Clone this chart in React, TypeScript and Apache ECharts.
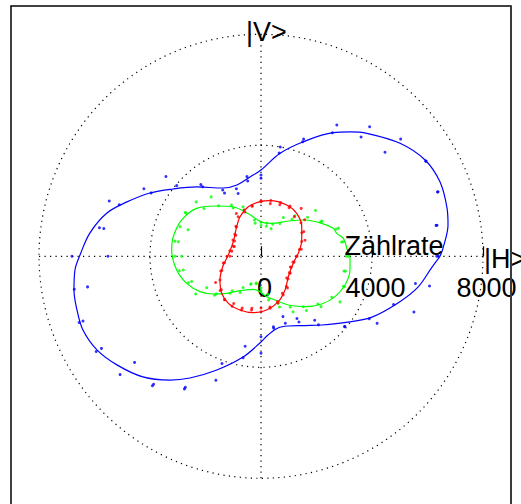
import React, { useEffect, useRef } from "react";
import * as echarts from "echarts";

// Measurement angles (degrees) — two readings per angle
const angles = [0, 10, 20, 30, 40, 50, 60, 70, 80, 90, 100, 110, 120, 130, 140, 150, 160, 170,
  180, 190, 200, 210, 220, 230, 240, 250, 260, 270, 280, 290, 300, 310, 320, 330, 340, 350];

const blueA = [6332, 6408, 6769, 6851, 6570, 6091, 5464, 4494, 3997, 2930, 2915, 2592, 2760, 3373, 3964, 4570, 5435, 5752,
  5514, 6347, 6826, 6639, 5948, 6087, 5517, 4754, 3713, 2898, 2577, 2312, 2590, 3010, 3934, 4505, 5082, 5652];
const blueB = [6390, 6440, 6790, 6870, 5832, 5611, 5143, 4393, 3781, 2811, 2757, 2411, 2630, 3272, 4472, 4873, 5820, 5911,
  6812, 6833, 6974, 6858, 6631, 6022, 5453, 4111, 3293, 3492, 2631, 2565, 2735, 3224, 3944, 4832, 5864, 6166];

const greenA = [3150, 3013, 2970, 2535, 2565, 1902, 1610, 1232, 1207, 1230, 1332, 1898, 2130, 2796, 3049, 3158, 3108, 3146,
  3099, 2990, 2787, 2717, 2186, 1740, 1503, 1074, 1003, 1250, 1596, 1945, 2311, 2547, 2823, 3284, 3200, 3086];
const greenB = [3080, 2950, 2880, 2480, 2189, 1737, 1362, 1060, 1098, 1110, 1213, 1774, 2008, 2378, 2684, 3112, 2799, 3023,
  2858, 2843, 2660, 2260, 2108, 1620, 1297, 1051, 975, 1143, 1390, 1800, 2107, 2378, 2676, 2946, 3162, 3036];

const redA = [1300, 1406, 1684, 1780, 2051, 2253, 2025, 1978, 1928, 1968, 1834, 1774, 1780, 1406, 1184, 1167, 1061, 1069,
  1117, 1380, 1542, 1890, 1921, 2045, 1966, 1986, 1903, 1864, 1853, 1791, 1542, 1485, 1211, 1218, 1129, 1168];
const redB = [1278, 1475, 1560, 1700, 1880, 1866, 2090, 2060, 2040, 1990, 1850, 1700, 1645, 1380, 1230, 1100, 1022, 1140,
  1230, 1340, 1500, 1707, 1870, 2030, 2080, 2057, 1964, 2000, 1900, 1740, 1600, 1420, 1270, 1180, 1160, 1210];

// Fitted curves (angle in degrees, radius in counts)
const blueCurveAngle = [0, 2.6, 9.5, 14.6, 22.5, 30.4, 39.1, 49.3, 54.4, 59.7, 69.7, 79.5, 90, 97.9, 108.6, 119.1, 132.7, 142.6,
  150.3, 157.9, 164.3, 172.2, 179.6, 184.2, 190.2, 196.3, 202.5, 209.7, 217.0, 225.6, 233.7, 239.7, 248.8, 259.9, 270, 275.1,
  283.3, 291.2, 302.4, 311.6, 322.9, 331.3, 341.2, 348.9, 356.4];
const blueCurveR = [6451, 6567, 6833, 6926, 6985, 6855, 6456, 5845, 5510, 5161, 4403, 3775, 3110, 2886, 2711, 2817, 3400, 3993,
  4605, 5211, 5766, 6220, 6523, 6722, 6848, 6908, 6944, 6807, 6502, 6084, 5535, 5078, 4394, 3687, 3089, 2847,
  2656, 2694, 2955, 3311, 3929, 4560, 5216, 5766, 6175];

const greenCurveAngle = [5.3, 12.3, 16.9, 21.2, 28.5, 39.5, 52.3, 72.0, 86.1, 96.6, 106.5, 119.3, 131.4, 143.3, 155.4, 167.4,
  176.0, 189.2, 200.0, 210.1, 218.3, 227.2, 238.6, 256.9, 268.4, 278.0, 287.8, 299.3, 311.1, 321.8, 331.4, 341.1, 351.2, 358.9];
const greenCurveR = [3103, 3036, 2851, 2794, 2490, 2056, 1608, 1250, 1214, 1342, 1600, 2038, 2416, 2892, 3143, 3239,
  3227, 3078, 2849, 2542, 2191, 1819, 1452, 1221, 1276, 1470, 1654, 2012, 2411, 2782, 3038, 3199, 3245, 3208];

const redCurveAngle = [4.6, 21.8, 36, 50.3, 63.4, 80.8, 91, 104.4, 117.9, 129.4, 152.2, 177.7, 195.2, 210, 223.3, 235.2,
  248.6, 262.2, 276, 290.9, 305.5, 323.2, 347.8];
const redCurveR = [1349, 1580, 1814, 2014, 2068, 2030, 1968, 1845, 1615, 1380, 1128, 1179, 1431, 1707, 1945, 2064,
  2078, 2051, 1946, 1751, 1491, 1229, 1190];

const radiusTickLabels = ["0", "4000", "8000"];
const axisTexts = { vertical: "|V>", horizontal: "|H>", radius: "Zählrate" };

const FONT = '"Liberation Sans", Arial, sans-serif';

function curveData(a: number[], r: number[]) {
  const d = a.map((ang, i) => [r[i], ang]);
  d.push([r[0], a[0] + 360]);
  return d;
}
function pointData(a: number[], r: number[]) {
  return a.map((ang, i) => [r[i], ang]);
}

export default function App() {
  const ref = useRef<HTMLDivElement>(null);
  useEffect(() => {
    const chart = echarts.init(ref.current as HTMLDivElement, null, { renderer: "svg" });
    const dotted = { color: "#000", width: 1.2, type: [1.2, 4.3] as any };
    const mk = (name: string, color: string, ca: number[], cr: number[], pa: number[][]) => [
      {
        type: "line", name, coordinateSystem: "polar", data: curveData(ca, cr), smooth: 0.35,
        showSymbol: false, symbol: "none", lineStyle: { color, width: 1.2 }, silent: true, z: 3,
      },
      {
        type: "scatter", name: name + "pts", coordinateSystem: "polar",
        data: [...pointData(angles, pa[0]), ...pointData(angles, pa[1])],
        symbol: "circle", symbolSize: 3, itemStyle: { color }, silent: true, z: 4,
      },
    ];
    chart.setOption({
      animation: false,
      backgroundColor: "#fff",
      polar: { center: [261, 256.3], radius: 222 },
      angleAxis: {
        type: "value", min: 0, max: 360, interval: 90, startAngle: 0, clockwise: false,
        axisLine: { show: false }, axisTick: { show: false }, axisLabel: { show: false },
        splitLine: { show: true, lineStyle: dotted },
      },
      radiusAxis: {
        type: "value", min: 0, max: 8000, interval: 4000,
        axisLine: { show: false },
        axisTick: { show: true, inside: true, length: 10, lineStyle: { color: "#000", width: 1.2 } },
        axisLabel: {
          show: true, margin: -18, verticalAlign: "top",
          formatter: (v: number) => "{a|" + radiusTickLabels[Math.round(v / 4000)] + "}",
          rich: { a: { fontSize: 27, fontFamily: FONT, color: "#000", padding: [0, 0, 0, 7] } },
        },
        splitLine: { show: true, lineStyle: dotted },
      },
      series: [
        ...mk("blue", "#0000ff", blueCurveAngle, blueCurveR, [blueA, blueB]),
        ...mk("green", "#00ff00", greenCurveAngle, greenCurveR, [greenA, greenB]),
        ...mk("red", "#ff0000", redCurveAngle, redCurveR, [redA, redB]),
      ],
      graphic: [
        { type: "text", x: 246, y: 31.6, z: 10, style: { text: axisTexts.vertical, font: "27px " + FONT, fill: "#000", align: "left", verticalAlign: "middle" } },
        { type: "text", x: 344.5, y: 245.6, z: 10, style: { text: axisTexts.radius, font: "27px " + FONT, fill: "#000", align: "left", verticalAlign: "middle" } },
        { type: "text", x: 484, y: 258.6, z: 10, style: { text: axisTexts.horizontal, font: "27px " + FONT, fill: "#000", align: "left", verticalAlign: "middle" } },
        { type: "line", z: 20, shape: { x1: 10.3, y1: 6, x2: 511, y2: 6 }, style: { stroke: "#000", lineWidth: 1.5 } },
        { type: "line", z: 20, shape: { x1: 11, y1: 6, x2: 11, y2: 504 }, style: { stroke: "#000", lineWidth: 1.5 } },
        { type: "line", z: 20, shape: { x1: 511, y1: 5.3, x2: 511, y2: 504 }, style: { stroke: "#3a3a3a", lineWidth: 2 } },
      ],
    });
    return () => chart.dispose();
  }, []);
  return <div ref={ref} style={{ position: "absolute", left: 0, top: 0, width: 521, height: 504, background: "#fff" }} />;
}
